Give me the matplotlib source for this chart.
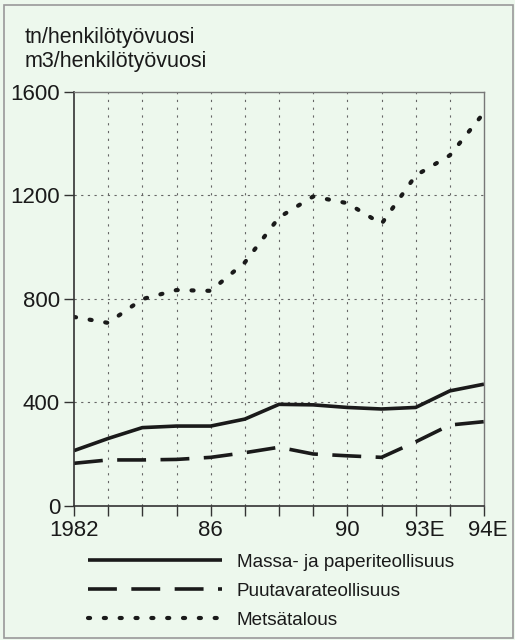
import matplotlib
matplotlib.use("Agg")
import matplotlib.pyplot as plt
from matplotlib.patches import Rectangle
from matplotlib.transforms import ScaledTranslation

plt.rcParams['font.family'] = ['Liberation Sans', 'DejaVu Sans']

years = [1982, 1983, 1984, 1985, 1986, 1987, 1988, 1989, 1990, 1991, 1992, 1993, 1994]
massa = [213, 260, 302, 308, 308, 335, 392, 390, 380, 374, 380, 444, 470]
puutavara = [164, 177, 177, 179, 187, 205, 226, 200, 193, 187, 247, 312, 325]
metsa = [730, 707, 799, 834, 831, 941, 1115, 1196, 1170, 1090, 1277, 1355, 1520]

tick_years = [1982, 1986, 1990, 1993, 1994]
tick_labels = ["1982", "86", "90", "93E", "94E"]
y_ticks = [0, 400, 800, 1200, 1600]

series_names = ["Massa- ja paperiteollisuus", "Puutavarateollisuus", "Metsätalous"]
unit_lines = ["tn/henkilötyövuosi", "m3/henkilötyövuosi"]

BG = '#edf8ed'
INK = '#1a1a1a'

fig = plt.figure(figsize=(5.15, 6.40), dpi=100, facecolor=BG)
ax = fig.add_axes([74 / 515, 1 - 505.7 / 640, 410 / 515, 413.7 / 640])
ax.set_facecolor(BG)

ax.plot(years, massa, color=INK, lw=2.6, solid_capstyle='butt', label=series_names[0])
ax.plot(years, puutavara, color=INK, lw=2.6, dashes=(8.0, 4.0), dash_capstyle='butt',
        label=series_names[1])
ax.plot(years, metsa, color=INK, lw=3.0, dashes=(0.5, 3.3), dash_capstyle='round',
        label=series_names[2])

ax.set_xlim(1982, 1994)
ax.set_ylim(0, 1600)
ax.set_xticks(years, minor=True)
ax.set_xticks(tick_years)
ax.set_xticklabels(tick_labels)
ax.set_yticks(y_ticks)
ax.tick_params(axis='both', which='both', direction='out', length=7, width=1,
               color='#333333', labelsize=16, labelcolor=INK, pad=3)
ax.tick_params(axis='x', which='major', pad=3.5)

# 93E sits left of its tick so it does not run into 94E
lab93 = ax.get_xticklabels()[3]
lab93.set_ha('right')
lab93.set_transform(lab93.get_transform() + ScaledTranslation(-5 / 100, 0, fig.dpi_scale_trans))
lab94 = ax.get_xticklabels()[4]
lab94.set_transform(lab94.get_transform() + ScaledTranslation(4 / 100, 0, fig.dpi_scale_trans))

for yr in years[1:-1]:
    ax.axvline(yr, color='#666666', lw=0.8, dashes=(2, 5), zorder=0)
for yv in [400, 800, 1200]:
    ax.axhline(yv, color='#666666', lw=0.8, dashes=(2, 4), zorder=0)

for side in ['left', 'bottom']:
    ax.spines[side].set_color('#333333')
    ax.spines[side].set_linewidth(1.2)
for side in ['top', 'right']:
    ax.spines[side].set_color('#777777')
    ax.spines[side].set_linewidth(1.0)

fig.text(25 / 515, 1 - 38 / 640, unit_lines[0], fontsize=15.5, color=INK, va='center')
fig.text(25 / 515, 1 - 62 / 640, unit_lines[1], fontsize=15.5, color=INK, va='center')

leg = ax.legend(loc='upper left', bbox_to_anchor=(80 / 515, 1 - 546 / 640),
                bbox_transform=fig.transFigure, frameon=False, fontsize=13.6,
                handlelength=7.1, handletextpad=0.8, labelspacing=0.62,
                borderaxespad=0)
for txt in leg.get_texts():
    txt.set_color(INK)

fig.patches.append(Rectangle((4 / 515, 2 / 640), 509 / 515, 633 / 640, transform=fig.transFigure,
                             fill=False, edgecolor='#999999', lw=1.2))

fig.savefig("out.png", dpi=100, facecolor=BG)
